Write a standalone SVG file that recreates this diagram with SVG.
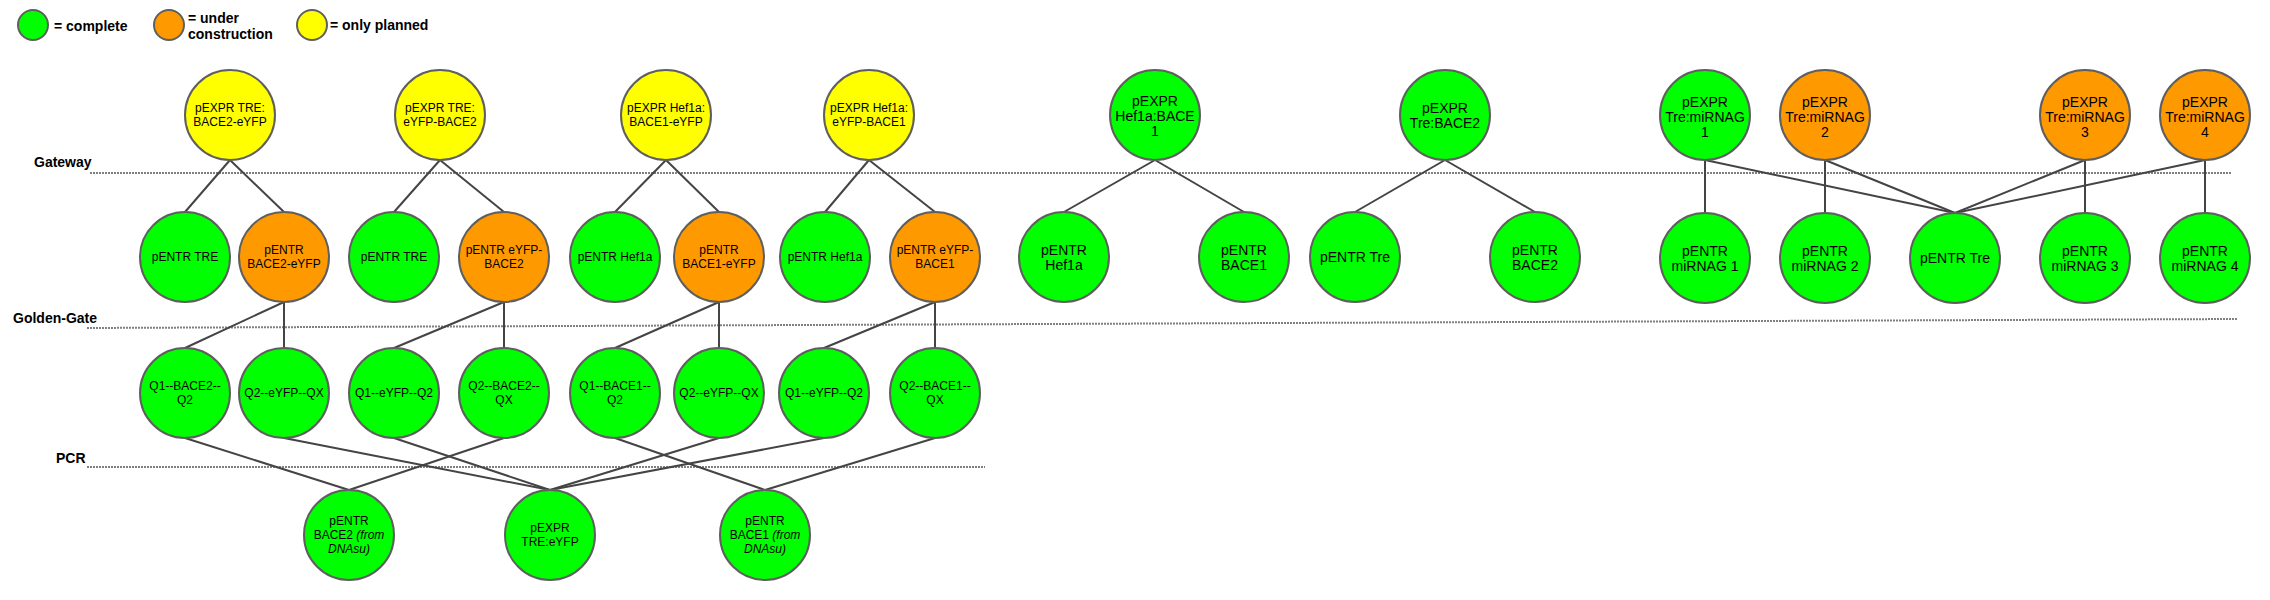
<svg xmlns="http://www.w3.org/2000/svg" width="2270" height="600" viewBox="0 0 2270 600">
<style>
.n{stroke:#5f5f5f;stroke-width:2}
.g{fill:#00ff00}
.o{fill:#ff9900}
.y{fill:#ffff00}
text{font-family:"Liberation Sans",Arial,sans-serif;fill:#000}
.s{font-size:12px;text-anchor:middle}
.m{font-size:14px;text-anchor:middle}
.b{font-size:14px;font-weight:bold}
.i{font-style:italic}
.c line{stroke:#444;stroke-width:2}
.d{stroke:#808080;stroke-width:2;stroke-dasharray:2 1;fill:none}
</style>
<rect width="2270" height="600" fill="#fff"/>
<g id="legend">
<circle class="n g" cx="33" cy="25" r="15"/>
<text class="b" x="54" y="30.5">= complete</text>
<circle class="n o" cx="169" cy="25" r="15"/>
<text class="b" x="188" y="22.5">= under</text>
<text class="b" x="188" y="38.5">construction</text>
<circle class="n y" cx="312" cy="25" r="15"/>
<text class="b" x="330" y="29.5">= only planned</text>
</g>
<g id="stages">
<line class="d" x1="90" y1="173" x2="2232" y2="173"/>
<line class="d" x1="87" y1="328" x2="2237" y2="319"/>
<line class="d" x1="87" y1="467" x2="985" y2="467"/>
<text class="b" x="34" y="167">Gateway</text>
<text class="b" x="13" y="322.5">Golden-Gate</text>
<text class="b" x="56" y="463">PCR</text>
</g>
<g class="c" id="connectors">
<line x1="230" y1="160" x2="185" y2="212"/>
<line x1="230" y1="160" x2="284" y2="212"/>
<line x1="440" y1="160" x2="394" y2="212"/>
<line x1="440" y1="160" x2="504" y2="212"/>
<line x1="666" y1="160" x2="615" y2="212"/>
<line x1="666" y1="160" x2="719" y2="212"/>
<line x1="869" y1="160" x2="825" y2="212"/>
<line x1="869" y1="160" x2="935" y2="212"/>
<line x1="284" y1="302" x2="185" y2="348"/>
<line x1="284" y1="302" x2="284" y2="348"/>
<line x1="504" y1="302" x2="394" y2="348"/>
<line x1="504" y1="302" x2="504" y2="348"/>
<line x1="719" y1="302" x2="615" y2="348"/>
<line x1="719" y1="302" x2="719" y2="348"/>
<line x1="935" y1="302" x2="824" y2="348"/>
<line x1="935" y1="302" x2="935" y2="348"/>
<line x1="185" y1="438" x2="349" y2="490"/>
<line x1="284" y1="438" x2="550" y2="490"/>
<line x1="394" y1="438" x2="550" y2="490"/>
<line x1="504" y1="438" x2="349" y2="490"/>
<line x1="615" y1="438" x2="765" y2="490"/>
<line x1="719" y1="438" x2="550" y2="490"/>
<line x1="824" y1="438" x2="550" y2="490"/>
<line x1="935" y1="438" x2="765" y2="490"/>
<line x1="1155" y1="160" x2="1064" y2="212"/>
<line x1="1155" y1="160" x2="1244" y2="212"/>
<line x1="1445" y1="160" x2="1355" y2="212"/>
<line x1="1445" y1="160" x2="1535" y2="212"/>
<line x1="1705" y1="160" x2="1705" y2="213"/>
<line x1="1705" y1="160" x2="1955" y2="213"/>
<line x1="1825" y1="160" x2="1825" y2="213"/>
<line x1="1825" y1="160" x2="1955" y2="213"/>
<line x1="2085" y1="160" x2="2085" y2="213"/>
<line x1="2085" y1="160" x2="1955" y2="213"/>
<line x1="2205" y1="160" x2="2205" y2="213"/>
<line x1="2205" y1="160" x2="1955" y2="213"/>
</g>
<g id="y1"><circle class="n y" cx="230" cy="115" r="45"/><text class="s" x="230" y="112">pEXPR TRE:</text><text class="s" x="230" y="126">BACE2-eYFP</text></g>
<g id="y2"><circle class="n y" cx="440" cy="115" r="45"/><text class="s" x="440" y="112">pEXPR TRE:</text><text class="s" x="440" y="126">eYFP-BACE2</text></g>
<g id="y3"><circle class="n y" cx="666" cy="115" r="45"/><text class="s" x="666" y="112">pEXPR Hef1a:</text><text class="s" x="666" y="126">BACE1-eYFP</text></g>
<g id="y4"><circle class="n y" cx="869" cy="115" r="45"/><text class="s" x="869" y="112">pEXPR Hef1a:</text><text class="s" x="869" y="126">eYFP-BACE1</text></g>
<g id="e1"><circle class="n g" cx="185" cy="257" r="45"/><text class="s" x="185" y="261">pENTR TRE</text></g>
<g id="e2"><circle class="n o" cx="284" cy="257" r="45"/><text class="s" x="284" y="254">pENTR</text><text class="s" x="284" y="268">BACE2-eYFP</text></g>
<g id="e3"><circle class="n g" cx="394" cy="257" r="45"/><text class="s" x="394" y="261">pENTR TRE</text></g>
<g id="e4"><circle class="n o" cx="504" cy="257" r="45"/><text class="s" x="504" y="254">pENTR eYFP-</text><text class="s" x="504" y="268">BACE2</text></g>
<g id="e5"><circle class="n g" cx="615" cy="257" r="45"/><text class="s" x="615" y="261">pENTR Hef1a</text></g>
<g id="e6"><circle class="n o" cx="719" cy="257" r="45"/><text class="s" x="719" y="254">pENTR</text><text class="s" x="719" y="268">BACE1-eYFP</text></g>
<g id="e7"><circle class="n g" cx="825" cy="257" r="45"/><text class="s" x="825" y="261">pENTR Hef1a</text></g>
<g id="e8"><circle class="n o" cx="935" cy="257" r="45"/><text class="s" x="935" y="254">pENTR eYFP-</text><text class="s" x="935" y="268">BACE1</text></g>
<g id="q1"><circle class="n g" cx="185" cy="393" r="45"/><text class="s" x="185" y="390">Q1--BACE2--</text><text class="s" x="185" y="404">Q2</text></g>
<g id="q2"><circle class="n g" cx="284" cy="393" r="45"/><text class="s" x="284" y="397">Q2--eYFP--QX</text></g>
<g id="q3"><circle class="n g" cx="394" cy="393" r="45"/><text class="s" x="394" y="397">Q1--eYFP--Q2</text></g>
<g id="q4"><circle class="n g" cx="504" cy="393" r="45"/><text class="s" x="504" y="390">Q2--BACE2--</text><text class="s" x="504" y="404">QX</text></g>
<g id="q5"><circle class="n g" cx="615" cy="393" r="45"/><text class="s" x="615" y="390">Q1--BACE1--</text><text class="s" x="615" y="404">Q2</text></g>
<g id="q6"><circle class="n g" cx="719" cy="393" r="45"/><text class="s" x="719" y="397">Q2--eYFP--QX</text></g>
<g id="q7"><circle class="n g" cx="824" cy="393" r="45"/><text class="s" x="824" y="397">Q1--eYFP--Q2</text></g>
<g id="q8"><circle class="n g" cx="935" cy="393" r="45"/><text class="s" x="935" y="390">Q2--BACE1--</text><text class="s" x="935" y="404">QX</text></g>
<g id="p1"><circle class="n g" cx="349" cy="535" r="45"/><text class="s" x="349" y="525">pENTR</text><text class="s" x="349" y="539">BACE2 <tspan class="i">(from</tspan></text><text class="s i" x="349" y="553">DNAsu)</text></g>
<g id="p2"><circle class="n g" cx="550" cy="535" r="45"/><text class="s" x="550" y="532">pEXPR</text><text class="s" x="550" y="546">TRE:eYFP</text></g>
<g id="p3"><circle class="n g" cx="765" cy="535" r="45"/><text class="s" x="765" y="525">pENTR</text><text class="s" x="765" y="539">BACE1 <tspan class="i">(from</tspan></text><text class="s i" x="765" y="553">DNAsu)</text></g>
<g id="h1"><circle class="n g" cx="1155" cy="115" r="45"/><text class="m" x="1155" y="106">pEXPR</text><text class="m" x="1155" y="121">Hef1a:BACE</text><text class="m" x="1155" y="136">1</text></g>
<g id="h2"><circle class="n g" cx="1445" cy="115" r="45"/><text class="m" x="1445" y="113">pEXPR</text><text class="m" x="1445" y="128">Tre:BACE2</text></g>
<g id="h3"><circle class="n g" cx="1064" cy="257" r="45"/><text class="m" x="1064" y="255">pENTR</text><text class="m" x="1064" y="270">Hef1a</text></g>
<g id="h4"><circle class="n g" cx="1244" cy="257" r="45"/><text class="m" x="1244" y="255">pENTR</text><text class="m" x="1244" y="270">BACE1</text></g>
<g id="h5"><circle class="n g" cx="1355" cy="257" r="45"/><text class="m" x="1355" y="262">pENTR Tre</text></g>
<g id="h6"><circle class="n g" cx="1535" cy="257" r="45"/><text class="m" x="1535" y="255">pENTR</text><text class="m" x="1535" y="270">BACE2</text></g>
<g id="m1"><circle class="n g" cx="1705" cy="115" r="45"/><text class="m" x="1705" y="107">pEXPR</text><text class="m" x="1705" y="122">Tre:miRNAG</text><text class="m" x="1705" y="137">1</text></g>
<g id="m2"><circle class="n o" cx="1825" cy="115" r="45"/><text class="m" x="1825" y="107">pEXPR</text><text class="m" x="1825" y="122">Tre:miRNAG</text><text class="m" x="1825" y="137">2</text></g>
<g id="m3"><circle class="n o" cx="2085" cy="115" r="45"/><text class="m" x="2085" y="107">pEXPR</text><text class="m" x="2085" y="122">Tre:miRNAG</text><text class="m" x="2085" y="137">3</text></g>
<g id="m4"><circle class="n o" cx="2205" cy="115" r="45"/><text class="m" x="2205" y="107">pEXPR</text><text class="m" x="2205" y="122">Tre:miRNAG</text><text class="m" x="2205" y="137">4</text></g>
<g id="r1"><circle class="n g" cx="1705" cy="258" r="45"/><text class="m" x="1705" y="256">pENTR</text><text class="m" x="1705" y="271">miRNAG 1</text></g>
<g id="r2"><circle class="n g" cx="1825" cy="258" r="45"/><text class="m" x="1825" y="256">pENTR</text><text class="m" x="1825" y="271">miRNAG 2</text></g>
<g id="r3"><circle class="n g" cx="1955" cy="258" r="45"/><text class="m" x="1955" y="263">pENTR Tre</text></g>
<g id="r4"><circle class="n g" cx="2085" cy="258" r="45"/><text class="m" x="2085" y="256">pENTR</text><text class="m" x="2085" y="271">miRNAG 3</text></g>
<g id="r5"><circle class="n g" cx="2205" cy="258" r="45"/><text class="m" x="2205" y="256">pENTR</text><text class="m" x="2205" y="271">miRNAG 4</text></g>
</svg>
